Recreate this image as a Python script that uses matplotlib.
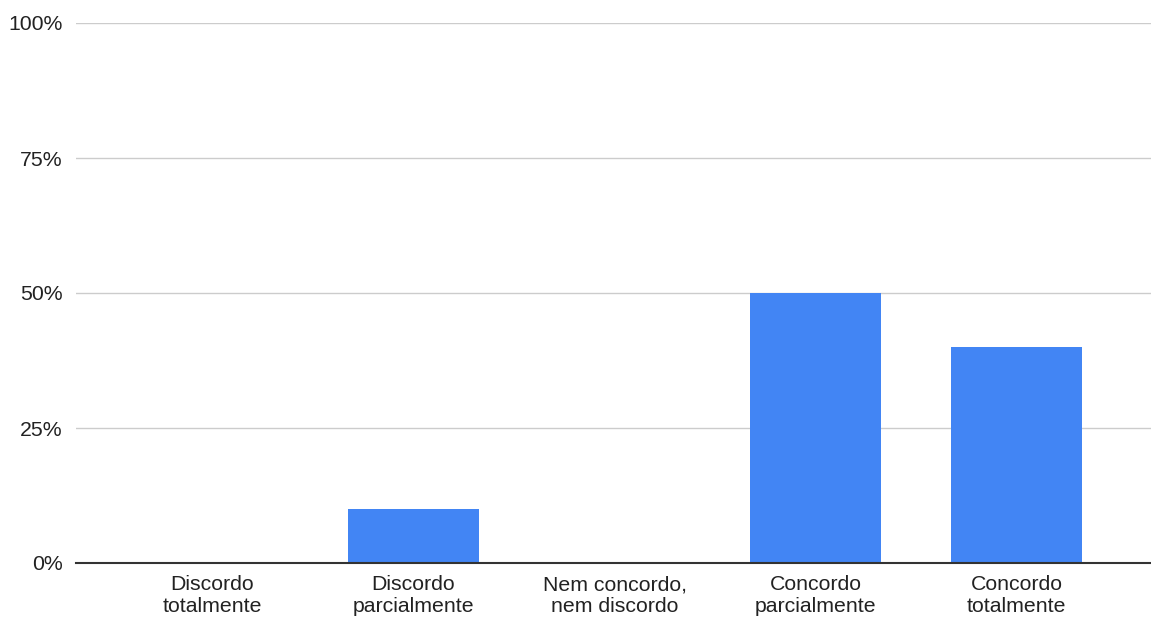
from matplotlib import pyplot as plt
from matplotlib.ticker import PercentFormatter
import numpy as np

plt.rcParams['font.family'] = ['Liberation Sans', 'DejaVu Sans']

categorias = ["Discordo\ntotalmente", "Discordo\nparcialmente", "Nem concordo,\nnem discordo",
              "Concordo\nparcialmente", "Concordo\ntotalmente"]
percentuais = [0, 10, 0, 50, 40]
yticks = [0, 25, 50, 75, 100]

fig = plt.figure(figsize=(11.51, 6.19), dpi=100)
ax = fig.add_axes([76 / 1151, 1 - 563 / 619, 1 - 76 / 1151, (563 - 23) / 619])

x = np.arange(len(categorias))
ax.bar(x, percentuais, width=0.647, color="#4285F4", zorder=3)

ax.set_xlim(-0.679, 4.669)
ax.set_ylim(0, 100)
ax.set_yticks(yticks)
ax.yaxis.set_major_formatter(PercentFormatter(decimals=0))
ax.set_xticks(x, labels=categorias)

ax.grid(axis="y", color="#cccccc", linewidth=1, zorder=0)
for s in ["top", "right", "left"]:
    ax.spines[s].set_visible(False)
ax.spines["bottom"].set_color("#333333")
ax.spines["bottom"].set_linewidth(1.5)
ax.spines["bottom"].set_zorder(4)
ax.tick_params(axis="both", length=0, labelsize=15.3, colors="#222222")
ax.tick_params(axis="y", pad=9.4)
ax.tick_params(axis="x", pad=9)
for lbl in ax.get_xticklabels():
    lbl.set_linespacing(1.17)

fig.savefig("out.png", dpi=100)
